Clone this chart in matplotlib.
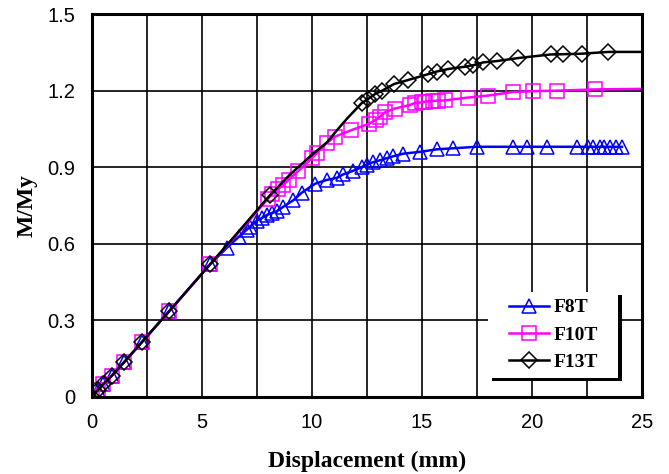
import numpy as np
import matplotlib
matplotlib.use('Agg')
import matplotlib.pyplot as plt
from matplotlib.patches import Rectangle

# test points (markers)
f8t_x = [0, 0.3, 0.53, 0.91, 1.47, 2.27, 3.53, 5.38, 6.13, 6.7, 7.05, 7.2, 7.5, 7.73, 7.95, 8.18, 8.41,
         8.71, 9.16, 9.55, 10.15, 10.68, 11.14, 11.44, 11.89, 12.27, 12.5, 12.8, 13.1, 13.4, 13.71, 14.16,
         14.92, 15.68, 16.41, 17.5, 19.16, 19.77, 20.68, 22.05, 22.57, 22.8, 23.1, 23.3, 23.55, 23.85, 24.1]
f8t_y = [0, 0.028, 0.05, 0.082, 0.135, 0.213, 0.336, 0.519, 0.583, 0.628, 0.655, 0.667, 0.69, 0.70, 0.712,
         0.72, 0.727, 0.745, 0.77, 0.80, 0.835, 0.85, 0.858, 0.872, 0.886, 0.90, 0.91, 0.92, 0.927, 0.935,
         0.943, 0.953, 0.96, 0.97, 0.974, 0.98, 0.98, 0.98, 0.98, 0.98, 0.98, 0.98, 0.98, 0.98, 0.98, 0.98, 0.98]

f10t_x = [0, 0.3, 0.53, 0.91, 1.47, 2.27, 3.53, 5.38, 8.0, 8.2, 8.48, 8.7, 8.95, 9.39, 10.0, 10.23, 10.68,
          11.06, 11.8, 12.6, 12.9, 13.1, 13.33, 13.78, 14.47, 14.7, 15.0, 15.15, 15.53, 15.75, 16.06, 17.1,
          18.03, 19.16, 20.07, 21.13, 22.88]
f10t_y = [0, 0.028, 0.05, 0.082, 0.135, 0.213, 0.336, 0.519, 0.775, 0.795, 0.815, 0.83, 0.85, 0.885, 0.935,
          0.955, 0.995, 1.02, 1.045, 1.07, 1.085, 1.098, 1.115, 1.13, 1.144, 1.152, 1.154, 1.157, 1.16, 1.161,
          1.162, 1.173, 1.181, 1.195, 1.198, 1.2, 1.205]

f13t_x = [0, 0.3, 0.53, 0.91, 1.47, 2.27, 3.53, 5.38, 8.1, 12.27, 12.57, 12.88, 13.18, 13.74, 14.39, 15.3,
          15.68, 16.21, 16.97, 17.35, 17.8, 18.41, 19.39, 20.86, 21.44, 22.27, 23.48]
f13t_y = [0, 0.028, 0.05, 0.082, 0.135, 0.213, 0.336, 0.519, 0.79, 1.151, 1.168, 1.187, 1.199, 1.226, 1.242,
          1.265, 1.275, 1.285, 1.294, 1.30, 1.311, 1.316, 1.328, 1.342, 1.343, 1.345, 1.352]

# extra points of the fitted curves (line only)
f10t_curve_x = [6.3, 7.2, 25.0]
f10t_curve_y = [0.607, 0.695, 1.207]
f13t_curve_x = [6.3, 7.2, 9.0, 10.0, 10.7, 11.15, 11.6, 25.0]
f13t_curve_y = [0.61, 0.70, 0.87, 0.948, 0.998, 1.045, 1.09, 1.352]

labels = ['F8T', 'F10T', 'F13T']
colors = ['#0000ff', '#ff00ff', '#000000']
markers = ['^', 's', 'D']
msizes = [10, 10, 8]


def merge(mx, my, cx, cy):
    x = np.array(list(mx) + list(cx))
    y = np.array(list(my) + list(cy))
    flag = np.array([True] * len(mx) + [False] * len(cx))
    o = np.argsort(x, kind='stable')
    return x[o], y[o], list(np.where(flag[o])[0])


series = [merge(f8t_x, f8t_y, [], []),
          merge(f10t_x, f10t_y, f10t_curve_x, f10t_curve_y),
          merge(f13t_x, f13t_y, f13t_curve_x, f13t_curve_y)]

plt.rcParams['font.family'] = ['Liberation Sans', 'DejaVu Sans']
fig = plt.figure(figsize=(6.69, 4.74), dpi=100)
ax = fig.add_axes([0.1371, 0.1631, 0.8221, 0.807])

for (x, y, me), lab, c, m, ms in zip(series, labels, colors, markers, msizes):
    ax.plot(x, y, color=c, lw=1.8, marker=m, markevery=me, ms=ms, mfc='none', mec=c, mew=1.1, label=lab)

ax.set_xlim(0, 25)
ax.set_ylim(0, 1.5)
ax.set_xticks(np.arange(0, 25.1, 5))
ax.set_xticks(np.arange(0, 25.1, 2.5), minor=True)
ax.set_yticks(np.arange(0, 1.51, 0.3))
ax.set_yticklabels(['0', '0.3', '0.6', '0.9', '1.2', '1.5'])
ax.grid(True, which='both', axis='x', color='k', lw=1.2)
ax.grid(True, which='major', axis='y', color='k', lw=1.2)
ax.set_axisbelow(True)
ax.tick_params(which='both', direction='in', length=0, labelsize=14.5)
ax.tick_params(axis='x', pad=12)
ax.tick_params(axis='y', pad=12)
for s in ax.spines.values():
    s.set_linewidth(2.2)

ax.set_xlabel('Displacement (mm)', family='Liberation Serif', weight='bold', fontsize=17, labelpad=13)
ax.set_ylabel('M/My', family='Liberation Serif', weight='bold', fontsize=17, labelpad=7)

# legend box with black drop shadow
bx, by, bw, bh = 0.7205, 0.0489, 0.2364, 0.2248
ax.add_patch(Rectangle((bx + 0.0073, by - 0.008), bw, bh, transform=ax.transAxes,
                       facecolor='k', edgecolor='none', zorder=5))
ax.add_patch(Rectangle((bx, by), bw, bh, transform=ax.transAxes,
                       facecolor='white', edgecolor='none', zorder=6))
leg = ax.legend(loc='center left', bbox_to_anchor=(0.7587, by + bh / 2), borderaxespad=0,
                prop={'family': 'Liberation Serif', 'weight': 'bold', 'size': 14},
                frameon=False, handlelength=2.05, handletextpad=0.25,
                labelspacing=0.5, borderpad=0)
leg.set_zorder(7)

plt.savefig('out.png', dpi=100)
